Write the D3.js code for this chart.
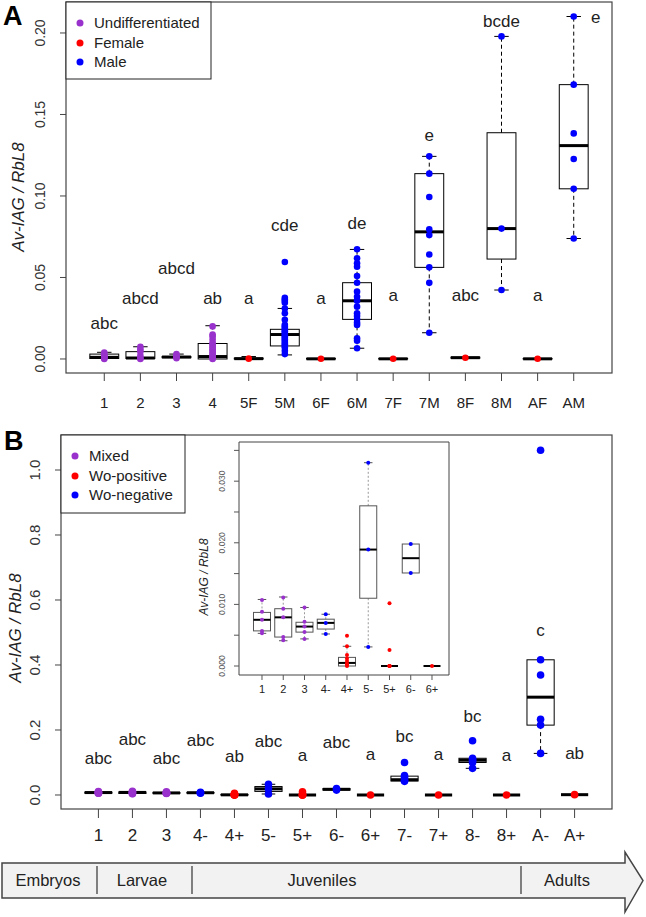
<!DOCTYPE html>
<html>
<head>
<meta charset="utf-8">
<script src="https://cdn.jsdelivr.net/npm/d3@7"></script>
<style>
  body { margin: 0; background: #fff; }
  svg { font-family: Arial, "Liberation Sans", sans-serif; }
</style>
</head>
<body>
<div id="chart"></div>
<script>
// ---- panel A data ----
const groupsA = ['1', '2', '3', '4', '5F', '5M', '6F', '6M', '7F', '7M', '8F', '8M', 'AF', 'AM'];
const sexA = ['U', 'U', 'U', 'U', 'F', 'M', 'F', 'M', 'F', 'M', 'F', 'M', 'F', 'M'];
const lettersA = ['abc', 'abcd', 'abcd', 'ab', 'a', 'cde', 'a', 'de', 'a', 'e', 'abc', 'bcde', 'a', 'e'];
const letterYA = [0.0221, 0.0374, 0.0557, 0.0374, 0.0374, 0.0825, 0.0374, 0.0835, 0.0392, 0.1376, 0.0392, 0.2077, 0.0392, 0.2101];
// lower whisker, q1, median, q3, upper whisker
const lowA = [0, 0, 0.0003, 0, 0, 0.0025, 0, 0.0066, 0, 0.0161, 0.0003, 0.0423, 0, 0.0739];
const q1A = [0.0003, 0.0003, 0.0008, 0, 0, 0.0080, 0, 0.0243, 0, 0.0562, 0.0005, 0.0613, 0, 0.1044];
const medA = [0.0010, 0.0006, 0.0012, 0.0015, 0.0002, 0.0150, 0.0001, 0.0357, 0.0001, 0.0780, 0.0008, 0.0800, 0.0001, 0.1309];
const q3A = [0.0030, 0.0045, 0.0015, 0.0095, 0.0005, 0.0182, 0.0003, 0.0468, 0.0003, 0.1137, 0.0011, 0.1388, 0.0003, 0.1683];
const highA = [0.0041, 0.0075, 0.0030, 0.0204, 0.0015, 0.0310, 0.0003, 0.0672, 0.0003, 0.1243, 0.0011, 0.1979, 0.0003, 0.2101];
const pointsA = [
  [0, 0.0005, 0.001, 0.0015, 0.002, 0.003, 0.004],
  [0, 0.0005, 0.002, 0.0045, 0.006, 0.0075],
  [0.0005, 0.001, 0.0015, 0.002, 0.003],
  [0, 0.0005, 0.001, 0.0015, 0.002, 0.003, 0.004, 0.005, 0.006, 0.007, 0.008, 0.009, 0.010, 0.012, 0.014, 0.015, 0.020],
  [0.0002],
  [0.003, 0.005, 0.007, 0.008, 0.009, 0.010, 0.011, 0.012, 0.013, 0.014, 0.015, 0.016, 0.017, 0.018, 0.019, 0.020, 0.021, 0.024, 0.028, 0.031, 0.0345, 0.0355, 0.0365, 0.0375, 0.0595],
  [0.0001],
  [0.0066, 0.0112, 0.0127, 0.0209, 0.0223, 0.0243, 0.0264, 0.028, 0.0321, 0.0358, 0.0382, 0.0413, 0.0468, 0.0509, 0.0566, 0.0587, 0.0618, 0.0673],
  [0.0001],
  [0.0161, 0.0467, 0.0562, 0.0641, 0.076, 0.0795, 0.0994, 0.1137, 0.1243],
  [0.0008],
  [0.0423, 0.080, 0.1979],
  [0.0001],
  [0.0739, 0.1044, 0.1227, 0.1384, 0.1683, 0.2101]
];
const yTicksA = [0, 0.05, 0.10, 0.15, 0.20];
const legendA = [['Undifferentiated', 'U'], ['Female', 'F'], ['Male', 'M']];

// ---- panel B data ----
const groupsB = ['1', '2', '3', '4-', '4+', '5-', '5+', '6-', '6+', '7-', '7+', '8-', '8+', 'A-', 'A+'];
const typeB = ['X', 'X', 'X', 'N', 'P', 'N', 'P', 'N', 'P', 'N', 'P', 'N', 'P', 'N', 'P'];
const lettersB = ['abc', 'abc', 'abc', 'abc', 'ab', 'abc', 'a', 'abc', 'a', 'bc', 'a', 'bc', 'a', 'c', 'ab'];
const letterYB = [0.114, 0.172, 0.114, 0.169, 0.120, 0.166, 0.123, 0.164, 0.126, 0.182, 0.126, 0.243, 0.123, 0.508, 0.129];
const lowB = [0.0053, 0.0041, 0.0044, 0.0052, 0, 0.0031, 0, 0.0151, 0, 0.042, 0, 0.082, 0, 0.128, 0.001];
const q1B = [0.0057, 0.0047, 0.0055, 0.0060, 0, 0.0110, 0, 0.0151, 0, 0.043, 0, 0.100, 0, 0.215, 0.001];
const medB = [0.0075, 0.0079, 0.0064, 0.0070, 0.0005, 0.0189, 0, 0.0175, 0, 0.047, 0, 0.107, 0, 0.301, 0.001];
const q3B = [0.0087, 0.0093, 0.0071, 0.0076, 0.0014, 0.0260, 0, 0.0198, 0, 0.058, 0, 0.113, 0, 0.416, 0.001];
const highB = [0.0108, 0.0112, 0.0095, 0.0084, 0.0032, 0.0330, 0, 0.0198, 0, 0.060, 0, 0.113, 0, 0.416, 0.001];
const pointsB = [
  [0.0053, 0.0057, 0.0075, 0.0088, 0.0107],
  [0.0042, 0.0047, 0.0079, 0.0093, 0.0111],
  [0.0044, 0.0055, 0.0064, 0.0072, 0.0095],
  [0.0052, 0.0070, 0.0084],
  [0, 0.0002, 0.0004, 0.0008, 0.0012, 0.0018, 0.0032, 0.0049],
  [0.0031, 0.0189, 0.0330],
  [0, 0, 0, 0.0026, 0.0102],
  [0.0151, 0.0198],
  [0],
  [0.042, 0.045, 0.050, 0.055, 0.060, 0.100],
  [0],
  [0.082, 0.100, 0.105, 0.108, 0.113, 0.167],
  [0],
  [0.128, 0.215, 0.233, 0.369, 0.416, 1.061],
  [0.001]
];
const yTicksB = [0, 0.2, 0.4, 0.6, 0.8, 1.0];
const legendB = [['Mixed', 'X'], ['Wo-positive', 'P'], ['Wo-negative', 'N']];

// inset shows the first nine groups of panel B
const insetCount = 9;
const yTicksInset = [0, 0.005, 0.010, 0.015, 0.020, 0.025, 0.030, 0.035];
const yLabelsInset = [0, 0.010, 0.020, 0.030];

const stages = ['Embryos', 'Larvae', 'Juveniles', 'Adults'];
const stageBounds = [0, 97, 192, 521, 625];

const colors = { U: '#9932cc', X: '#9932cc', F: '#ff0000', P: '#ff0000', M: '#0000ff', N: '#0000ff' };

const W = 646, H = 917;
const svg = d3.select('#chart').append('svg').attr('width', W).attr('height', H);

function boxData(groups, kinds, lo, q1, med, q3, hi, pts, n) {
  return groups.slice(0, n).map((g, i) => ({
    name: g, kind: kinds[i], lo: lo[i], q1: q1[i], med: med[i], q3: q3[i], hi: hi[i], pts: pts[i], pos: i + 1
  }));
}

function drawBoxes(g, data, x, y, o) {
  const bw = (x(2) - x(1)) * 0.8;
  const grp = g.selectAll('.grp').data(data).enter().append('g').attr('class', 'grp');

  // whiskers
  grp.each(function(d) {
    const s = d3.select(this);
    const cx = x(d.pos);
    [[d.q3, d.hi], [d.q1, d.lo]].forEach(([a, b]) => {
      if (Math.abs(y(a) - y(b)) < 1) return;
      s.append('line').attr('x1', cx).attr('x2', cx).attr('y1', y(a)).attr('y2', y(b))
        .attr('stroke', o.whiskColor).attr('stroke-width', 1).attr('stroke-dasharray', o.dash);
      s.append('line').attr('x1', cx - bw / 4).attr('x2', cx + bw / 4).attr('y1', y(b)).attr('y2', y(b))
        .attr('stroke', o.boxColor).attr('stroke-width', 1);
    });
  });

  grp.append('rect')
    .attr('x', d => x(d.pos) - bw / 2)
    .attr('width', bw)
    .attr('y', d => y(d.q3))
    .attr('height', d => Math.max(0, y(d.q1) - y(d.q3)))
    .attr('fill', 'none')
    .attr('stroke', o.boxColor)
    .attr('stroke-width', 1);

  grp.append('line')
    .attr('x1', d => x(d.pos) - bw / 2)
    .attr('x2', d => x(d.pos) + bw / 2)
    .attr('y1', d => y(d.med))
    .attr('y2', d => y(d.med))
    .attr('stroke', '#000')
    .attr('stroke-width', o.medWidth);

  grp.selectAll('circle').data(d => d.pts.map(v => ({ v, pos: d.pos, kind: d.kind })))
    .enter().append('circle')
    .attr('cx', d => x(d.pos))
    .attr('cy', d => y(d.v))
    .attr('r', o.r)
    .attr('fill', d => colors[d.kind]);
}

function drawFrame(g, x0, y0, x1, y1, color, sw) {
  g.append('rect').attr('x', x0).attr('y', y0).attr('width', x1 - x0).attr('height', y1 - y0)
    .attr('fill', 'none').attr('stroke', color).attr('stroke-width', sw);
}

function drawLegend(g, items, x0, y0, x1, y1, rows, fs) {
  g.append('rect').attr('x', x0).attr('y', y0).attr('width', x1 - x0).attr('height', y1 - y0)
    .attr('fill', '#fff').attr('stroke', '#222').attr('stroke-width', 1);
  items.forEach((it, i) => {
    g.append('circle').attr('cx', x0 + 14).attr('cy', rows[i]).attr('r', 3.5).attr('fill', colors[it[1]]);
    g.append('text').attr('x', x0 + 28).attr('y', rows[i]).attr('dy', '0.36em')
      .attr('font-size', fs).attr('fill', '#222').text(it[0]);
  });
}

function drawYAxis(g, ticks, y, xAxis, tickLen, labelX, fs, fmt, color) {
  ticks.forEach(t => {
    g.append('line').attr('x1', xAxis - tickLen).attr('x2', xAxis).attr('y1', y(t)).attr('y2', y(t))
      .attr('stroke', color).attr('stroke-width', 1);
  });
}

function yLabels(g, ticks, y, labelX, fs, fmt, color) {
  ticks.forEach(t => {
    g.append('text').attr('transform', `translate(${labelX},${y(t)}) rotate(-90)`)
      .attr('text-anchor', 'middle').attr('dy', '0.36em')
      .attr('font-size', fs).attr('fill', color).text(fmt(t));
  });
}

function xTicks(g, groups, x, yAxis, tickLen, labelY, fs, color) {
  groups.forEach((name, i) => {
    g.append('line').attr('x1', x(i + 1)).attr('x2', x(i + 1)).attr('y1', yAxis).attr('y2', yAxis + tickLen)
      .attr('stroke', color).attr('stroke-width', 1);
    g.append('text').attr('x', x(i + 1)).attr('y', labelY).attr('text-anchor', 'middle')
      .attr('font-size', fs).attr('fill', '#222').text(name);
  });
}

function yTitle(g, cx, cy, fs) {
  const t = g.append('text').attr('transform', `translate(${cx},${cy}) rotate(-90)`)
    .attr('text-anchor', 'middle').attr('dy', '0.36em')
    .attr('font-size', fs).attr('font-style', 'italic').attr('fill', '#222');
  t.text('Av-IAG / RbL8');
}

// ---------------- Panel A ----------------
const gA = svg.append('g');
const xA = d3.scaleLinear().domain([-0.06, 15.06]).range([66, 612]);
const yA = d3.scaleLinear().domain([-0.0086, 0.219]).range([373, 2]);
const dataA = boxData(groupsA, sexA, lowA, q1A, medA, q3A, highA, pointsA, groupsA.length);

drawBoxes(gA, dataA, xA, yA, { whiskColor: '#000', boxColor: '#000', dash: '4,3', medWidth: 3, r: 3.3 });
drawFrame(gA, 66, 2, 612, 373, '#444', 1.2);
drawYAxis(gA, yTicksA, yA, 66, 6, 0, 0, null, '#444');
yLabels(gA, yTicksA, yA, 40, 14, d3.format('.2f'), '#333');
xTicks(gA, groupsA, xA, 373, 8, 408, 15, '#444');
yTitle(gA, 18, 197, 17);
drawLegend(gA, legendA, 66, 2, 211, 79, [23, 43, 62], 15);

gA.selectAll('.lettA').data(lettersA).enter().append('text')
  .attr('x', (d, i) => xA(i + 1) + (i === lettersA.length - 1 ? 22 : 0))
  .attr('y', (d, i) => yA(letterYA[i]))
  .attr('dy', '0.36em').attr('text-anchor', 'middle')
  .attr('font-size', 17).attr('fill', '#222').text(d => d);

svg.append('text').attr('x', 3).attr('y', 25).attr('font-size', 27).attr('font-weight', 'bold').text('A');

// ---------------- Panel B ----------------
const gB = svg.append('g');
const xB = d3.scaleLinear().domain([-0.1, 16.1]).range([61, 612]);
const yB = d3.scaleLinear().domain([-0.0431, 1.1077]).range([809, 435]);
const dataB = boxData(groupsB, typeB, lowB, q1B, medB, q3B, highB, pointsB, groupsB.length);

drawBoxes(gB, dataB, xB, yB, { whiskColor: '#000', boxColor: '#000', dash: '4,3', medWidth: 3, r: 3.8 });
drawFrame(gB, 61, 435, 612, 809, '#444', 1.2);
drawYAxis(gB, yTicksB, yB, 61, 6, 0, 0, null, '#444');
yLabels(gB, yTicksB, yB, 35, 15, d3.format('.1f'), '#333');
xTicks(gB, groupsB, xB, 809, 9, 841, 17, '#444');
yTitle(gB, 15, 628, 17);
drawLegend(gB, legendB, 61, 435, 185, 513, [456, 476, 495], 15);

gB.selectAll('.lettB').data(lettersB).enter().append('text')
  .attr('x', (d, i) => xB(i + 1))
  .attr('y', (d, i) => yB(letterYB[i]))
  .attr('dy', '0.36em').attr('text-anchor', 'middle')
  .attr('font-size', 17).attr('fill', '#222').text(d => d);

svg.append('text').attr('x', 4).attr('y', 450).attr('font-size', 27).attr('font-weight', 'bold').text('B');

// ---------------- Inset ----------------
const gI = svg.append('g');
const xI = d3.scaleLinear().domain([-0.082, 9.8]).range([239, 449]);
const yI = d3.scaleLinear().domain([-0.00146, 0.03636]).range([675, 442]);
const dataI = boxData(groupsB, typeB, lowB, q1B, medB, q3B, highB, pointsB, insetCount);

gI.append('rect').attr('x', 239).attr('y', 442).attr('width', 210).attr('height', 233).attr('fill', '#fff');
drawBoxes(gI, dataI, xI, yI, { whiskColor: '#999', boxColor: '#555', dash: '2,2', medWidth: 2, r: 2 });
gI.append('line').attr('x1', 239).attr('x2', 239).attr('y1', 442).attr('y2', 675).attr('stroke', '#444');
gI.append('line').attr('x1', 239).attr('x2', 449).attr('y1', 675).attr('y2', 675).attr('stroke', '#444');
gI.append('line').attr('x1', 239).attr('x2', 449).attr('y1', 442).attr('y2', 442).attr('stroke', '#444');
gI.append('line').attr('x1', 449).attr('x2', 449).attr('y1', 442).attr('y2', 675).attr('stroke', '#444');
drawYAxis(gI, yTicksInset, yI, 239, 5, 0, 0, null, '#555');
yLabels(gI, yLabelsInset, yI, 222, 8.5, d3.format('.3f'), '#555');
xTicks(gI, groupsB.slice(0, insetCount), xI, 675, 5, 693, 11, '#555');
yTitle(gI, 204, 577, 12);

// ---------------- Stage arrow ----------------
const gS = svg.append('g');
const arrowTop = 863, arrowBot = 898, headTop = 852, headBot = 912, tipX = 643;
const mid = (arrowTop + arrowBot) / 2;
const path = d3.path();
path.moveTo(2, arrowTop);
path.lineTo(stageBounds[4], arrowTop);
path.lineTo(stageBounds[4], headTop);
path.lineTo(tipX, mid);
path.lineTo(stageBounds[4], headBot);
path.lineTo(stageBounds[4], arrowBot);
path.lineTo(2, arrowBot);
path.closePath();
gS.append('path').attr('d', path.toString()).attr('fill', '#f2f2f2').attr('stroke', '#444').attr('stroke-width', 1.5);

[1, 2, 3].forEach(i => {
  gS.append('line').attr('x1', stageBounds[i]).attr('x2', stageBounds[i])
    .attr('y1', arrowTop + 3).attr('y2', arrowBot - 4).attr('stroke', '#333').attr('stroke-width', 1.2);
});
const stageCenters = [48, 142, 322, 567];
stages.forEach((s, i) => {
  gS.append('text').attr('x', stageCenters[i]).attr('y', mid).attr('dy', '0.36em')
    .attr('text-anchor', 'middle').attr('font-size', 16.5).attr('fill', '#222').text(s);
});
</script>
</body>
</html>
